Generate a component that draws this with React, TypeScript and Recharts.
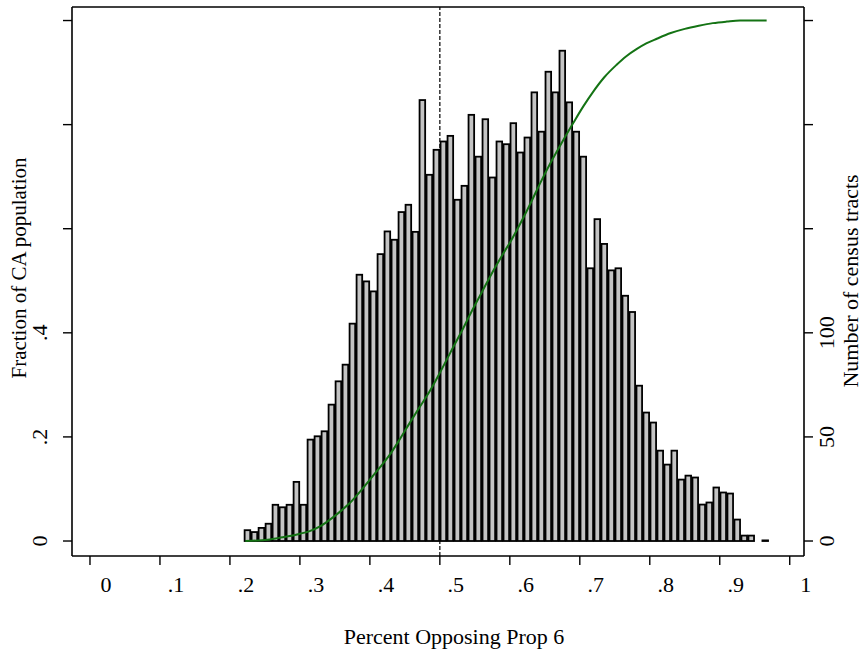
import { Bar, ComposedChart, Line, ReferenceLine, XAxis, YAxis } from 'recharts'

// histogram bins: first bin centre and width (share of votes opposing)
const BIN_FIRST = 0.225
const BIN_WIDTH = 0.01

// number of census tracts per bin (right axis)
const TRACTS: (number | null)[] = [
  5.2, 4.3, 6.3, 8.3, 17.4, 16.2, 17.4, 28.4, 17.4, 48.7,
  50.3, 52.7, 65.5, 76.7, 84.7, 104.4, 127.9, 124.7, 119.9, 137.8,
  148.7, 144.7, 158, 161.5, 148.5, 211.8, 175.9, 187.9, 191.9, 194.6,
  163.9, 170.6, 204.7, 184.6, 202.6, 174.6, 191.9, 190.6, 200.7, 186.6,
  193.8, 215.5, 196.6, 225.4, 215.5, 235.5, 210.7, 196.6, 184.6, 131,
  154.6, 142.7, 130, 131, 117.8, 110, 74.6, 61.7, 56.9, 43.4,
  36.7, 43.4, 29.5, 31.4, 30.5, 17.5, 18.5, 25.7, 23.3, 22.8,
  10.3, 2.6, 2.6, null, 0.3,
]

// cumulative fraction of CA population (left axis)
const CDF_X = [
  0.222, 0.24, 0.257, 0.27, 0.2855, 0.3, 0.314, 0.33, 0.343, 0.357,
  0.3713, 0.386, 0.4, 0.414, 0.4285, 0.443, 0.457, 0.471, 0.4857, 0.5,
  0.515, 0.53, 0.545, 0.56, 0.575, 0.59, 0.6025, 0.615, 0.63, 0.645,
  0.66, 0.672, 0.6906, 0.705, 0.719, 0.735, 0.7526, 0.766, 0.781, 0.795,
  0.81, 0.83, 0.85, 0.87, 0.89, 0.91, 0.929, 0.967,
]
const CDF_Y = [
  0, 0.001, 0.003, 0.006, 0.0095, 0.014, 0.019, 0.029, 0.041, 0.056,
  0.073, 0.095, 0.118, 0.141, 0.166, 0.196, 0.227, 0.257, 0.288, 0.323,
  0.362, 0.4, 0.44, 0.478, 0.516, 0.551, 0.579, 0.61, 0.65, 0.692,
  0.731, 0.76, 0.803, 0.835, 0.863, 0.891, 0.915, 0.931, 0.945, 0.956,
  0.965, 0.976, 0.984, 0.99, 0.995, 0.998, 1, 1,
]

const MEDIAN_LINE = 0.5

const X_TICKS = [0, 0.1, 0.2, 0.3, 0.4, 0.5, 0.6, 0.7, 0.8, 0.9, 1]
const LEFT_TICKS = [0, 0.2, 0.4, 0.6, 0.8, 1]
const LEFT_LABELED = [0, 0.2, 0.4]
const RIGHT_TICKS = [0, 50, 100, 150, 200, 250]
const RIGHT_LABELED = [0, 50, 100]

const X_DOMAIN = [-0.0257, 1.0204]
const LEFT_DOMAIN = [-0.0288, 1.026]
const RIGHT_DOMAIN = [-7.2, 256.5]

const FONT = "'Liberation Serif', 'Times New Roman', serif"
const BAR_PX = 5.6

const bars = TRACTS.map((n, i) => ({ x: +(BIN_FIRST + i * BIN_WIDTH).toFixed(3), tracts: n }))
const cdf = CDF_X.map((x, i) => ({ x, cdf: CDF_Y[i] }))

const fmt = (v: number) => (v === 0 || v === 1 ? String(v) : String(+v.toFixed(2)).replace(/^0/, ''))

function XTick({ x, y, payload }: any) {
  return (
    <text x={x + 16} y={y + 17} textAnchor="middle" dominantBaseline="central" fontFamily={FONT} fontSize={22} fill="#000">
      {fmt(payload.value)}
    </text>
  )
}

function LeftTick({ x, y, payload }: any) {
  if (!LEFT_LABELED.includes(payload.value)) return <g />
  const cx = x - 21
  return (
    <text x={cx} y={y} transform={`rotate(-90 ${cx} ${y})`} textAnchor="middle" dominantBaseline="central" fontFamily={FONT} fontSize={22} fill="#000">
      {fmt(payload.value)}
    </text>
  )
}

function RightTick({ x, y, payload }: any) {
  if (!RIGHT_LABELED.includes(payload.value)) return <g />
  const cx = x + 12
  return (
    <text x={cx} y={y} transform={`rotate(-90 ${cx} ${y})`} textAnchor="middle" dominantBaseline="central" fontFamily={FONT} fontSize={22} fill="#000">
      {payload.value}
    </text>
  )
}

// axis titles: fixed spots, own prop names so recharts' label props don't override them
function Title({ tx, ty, rot = 0, size = 22, text }: { tx: number; ty: number; rot?: number; size?: number; text: string }) {
  return (
    <text x={tx} y={ty} transform={rot ? `rotate(${rot} ${tx} ${ty})` : undefined} textAnchor="middle" dominantBaseline="central" fontFamily={FONT} fontSize={size} fill="#000">
      {text}
    </text>
  )
}

function HistBar(props: any) {
  const { x, y, width, height } = props
  if (height == null || width == null) return <g />
  const cx = x + width / 2
  return (
    <rect
      x={cx - BAR_PX / 2}
      y={y}
      width={BAR_PX}
      height={Math.max(height, 0.01)}
      fill="#c4c4c4"
      stroke="#000"
      strokeWidth={1.8}
    />
  )
}

const axisLine = { stroke: '#000', strokeWidth: 1.6 }
const tickLine = { stroke: '#000', strokeWidth: 1.4 }

export default function App() {
  return (
    <div style={{ position: 'absolute', left: 0, top: 0, background: '#fff' }}>
      <ComposedChart width={862} height={654} data={bars} margin={{ top: 7, right: 0, bottom: 0, left: 0 }}>
        <XAxis
          dataKey="x"
          type="number"
          domain={X_DOMAIN}
          ticks={X_TICKS}
          allowDataOverflow
          height={98}
          tickSize={9}
          axisLine={axisLine}
          tickLine={tickLine}
          tick={<XTick />}
        />
        <YAxis
          yAxisId="left"
          type="number"
          domain={LEFT_DOMAIN}
          ticks={LEFT_TICKS}
          allowDataOverflow
          width={72}
          tickSize={9}
          axisLine={axisLine}
          tickLine={tickLine}
          tick={<LeftTick />}
        />
        <YAxis
          yAxisId="right"
          orientation="right"
          type="number"
          domain={RIGHT_DOMAIN}
          ticks={RIGHT_TICKS}
          allowDataOverflow
          width={58}
          tickSize={9}
          axisLine={axisLine}
          tickLine={tickLine}
          tick={<RightTick />}
        />
        <ReferenceLine yAxisId="left" y={LEFT_DOMAIN[1]} stroke="#000" strokeWidth={1.6} />
        <Bar yAxisId="right" dataKey="tracts" shape={<HistBar />} isAnimationActive={false} />
        <ReferenceLine yAxisId="left" x={MEDIAN_LINE} stroke="#000" strokeWidth={1.2} strokeDasharray="4 2" />
        <Line
          yAxisId="left"
          data={cdf}
          dataKey="cdf"
          type="monotone"
          stroke="#147314"
          strokeWidth={2}
          dot={false}
          isAnimationActive={false}
        />
        <Title tx={454} ty={636} text="Percent Opposing Prop 6" />
        <Title tx={19} ty={268} rot={-90} size={21} text="Fraction of CA population" />
        <Title tx={850} ty={281} rot={-90} text="Number of census tracts" />
      </ComposedChart>
    </div>
  )
}
